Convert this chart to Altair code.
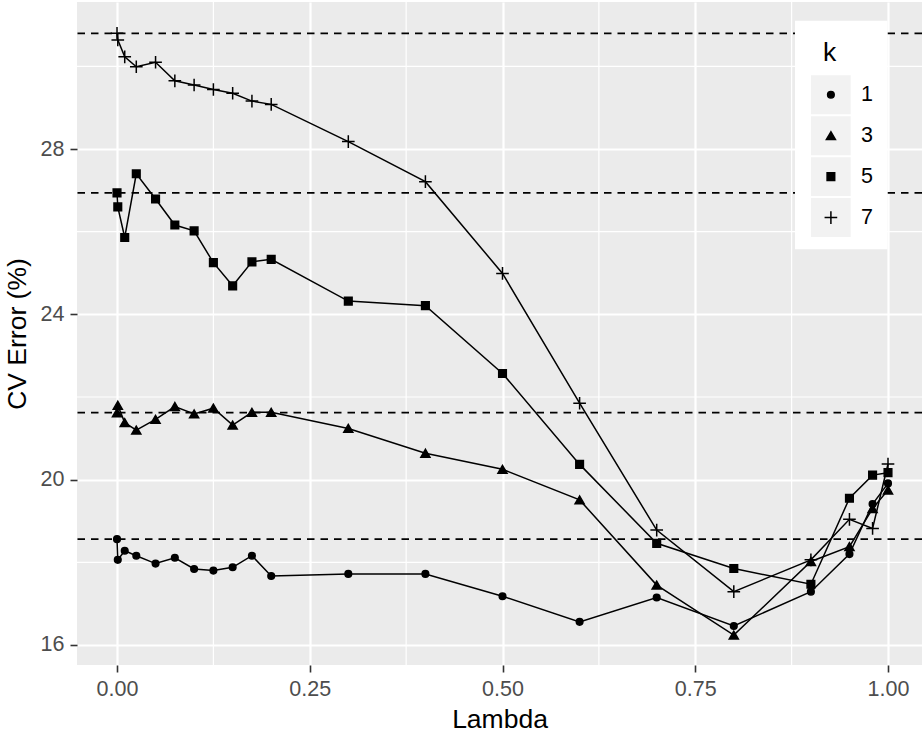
import altair as alt
import pandas as pd

# Penalty values and cross-validated error (%) for each neighbourhood size k
lambdas = [0, 0.001, 0.01, 0.025, 0.05, 0.075, 0.1, 0.125, 0.15, 0.175, 0.2,
           0.3, 0.4, 0.5, 0.6, 0.7, 0.8, 0.9, 0.95, 0.98, 1.0]
k_levels = ["1", "3", "5", "7"]
cv_k1 = [18.56, 18.06, 18.28, 18.16, 17.97, 18.11, 17.84, 17.80, 17.88, 18.16, 17.67,
         17.72, 17.72, 17.18, 16.56, 17.15, 16.46, 17.29, 18.20, 19.41, 19.91]
cv_k3 = [21.62, 21.80, 21.38, 21.20, 21.46, 21.77, 21.59, 21.73, 21.32, 21.63, 21.63,
         21.24, 20.64, 20.25, 19.51, 17.45, 16.24, 18.02, 18.38, 19.30, 19.75]
cv_k5 = [26.94, 26.60, 25.86, 27.40, 26.79, 26.16, 26.02, 25.25, 24.69, 25.27, 25.33,
         24.32, 24.21, 22.57, 20.37, 18.46, 17.85, 17.47, 19.55, 20.11, 20.17]
cv_k7 = [30.80, 30.64, 30.23, 29.99, 30.10, 29.65, 29.55, 29.44, 29.35, 29.16, 29.08,
         28.18, 27.21, 24.99, 21.85, 18.78, 17.29, 18.06, 19.04, 18.82, 20.38]
baseline_cv = [18.56, 21.62, 26.94, 30.80]

x_ticks = [0, 0.25, 0.5, 0.75, 1.0]
x_minor = [0.125, 0.375, 0.625, 0.875]
y_ticks = [16, 20, 24, 28]
y_minor = [18, 22, 26, 30]

series = {"1": cv_k1, "3": cv_k3, "5": cv_k5, "7": cv_k7}
cv = pd.DataFrame(
    [{"lambda": lam, "cv": v, "k": k} for k, vals in series.items() for lam, v in zip(lambdas, vals)]
)
base_df = pd.DataFrame({"cv": baseline_cv})
xminor_df = pd.DataFrame({"lambda": x_minor})
yminor_df = pd.DataFrame({"cv": y_minor})
legend_df = pd.DataFrame({"k": k_levels})
legend_title_df = pd.DataFrame({"title": ["k"]})

FONT = "Liberation Sans, Arial, sans-serif"
LABEL_SIZE = 21.5
TITLE_SIZE = 26.5

x_scale = alt.Scale(domain=[-0.0519, 1.0441], nice=False, zero=False)
y_scale = alt.Scale(domain=[15.516, 31.557], nice=False, zero=False)
plus_path = "M-1,0H1M0,-1V1"
shape_scale = alt.Scale(domain=k_levels, range=["circle", "triangle-up", "square", plus_path])
size_scale = alt.Scale(type="ordinal", domain=k_levels, range=[44, 82, 58, 160])

axis_common = dict(
    grid=True, gridColor="white", gridWidth=2.2, domain=False,
    tickColor="#333333", tickSize=7, tickWidth=1.6,
    labelFont=FONT, labelFontSize=LABEL_SIZE, labelColor="#4D4D4D",
    titleFont=FONT, titleFontSize=TITLE_SIZE, titleFontWeight="normal", titleColor="black",
)
x_axis = alt.Axis(values=x_ticks, format=".2f", title="Lambda", labelPadding=6,
                  titlePadding=7, **axis_common)
y_axis = alt.Axis(values=y_ticks, format="d", title="CV Error (%)", labelPadding=6,
                  titlePadding=9, **axis_common)


def X(field="lambda"):
    return alt.X(f"{field}:Q", scale=x_scale, axis=x_axis)


def Y(field="cv"):
    return alt.Y(f"{field}:Q", scale=y_scale, axis=y_axis)


# minor grid
grid_x = alt.Chart(xminor_df).mark_rule(color="white", strokeWidth=1.2).encode(x=X())
grid_y = alt.Chart(yminor_df).mark_rule(color="white", strokeWidth=1.2).encode(y=Y())

# reference errors for plain kNN
baselines = alt.Chart(base_df).mark_rule(
    color="black", strokeWidth=1.8, strokeDash=[7.5, 6]
).encode(y=Y())

lines = alt.Chart(cv).mark_line(color="black", strokeWidth=1.5).encode(
    x=X(), y=Y(), detail="k:N", order="lambda:Q"
)
points = alt.Chart(cv).mark_point(
    filled=True, fill="black", stroke="black", strokeWidth=1.5, opacity=1
).encode(
    x=X(), y=Y(),
    shape=alt.Shape("k:N", scale=shape_scale, legend=None),
    size=alt.Size("k:N", scale=size_scale, legend=None),
)

main = alt.layer(grid_x, grid_y, baselines, lines, points)

# legend drawn as a layered block
key_scale = alt.Scale(type="band", domain=k_levels, range=[73.3, 235.0],
                      paddingInner=0.05, paddingOuter=0)
key_y = alt.Y("k:N", scale=key_scale, axis=None)

legend_box = alt.Chart(legend_title_df).mark_rect(fill="white").encode(
    x=alt.value(718), x2=alt.value(810.5), y=alt.value(18.7), y2=alt.value(247.3)
)
legend_title = alt.Chart(legend_title_df).mark_text(
    align="left", baseline="alphabetic", font=FONT, fontSize=TITLE_SIZE, color="black"
).encode(x=alt.value(746), y=alt.value(59.4), text="title:N")
legend_keys = alt.Chart(legend_df).mark_rect(fill="#F2F2F2").encode(
    y=key_y, x=alt.value(734), x2=alt.value(773.7)
)
legend_symbols = alt.Chart(legend_df).mark_point(
    filled=True, fill="black", stroke="black", strokeWidth=1.5, opacity=1
).encode(
    y=key_y, x=alt.value(753.9),
    shape=alt.Shape("k:N", scale=shape_scale, legend=None),
    size=alt.Size("k:N", scale=size_scale, legend=None),
)
legend_labels = alt.Chart(legend_df).mark_text(
    align="left", baseline="middle", font=FONT, fontSize=LABEL_SIZE, color="black"
).encode(y=key_y, x=alt.value(784), text="k:N")

legend = alt.layer(legend_box, legend_title, legend_keys, legend_symbols, legend_labels)

chart = alt.layer(main, legend).resolve_scale(y="independent").properties(
    width=845, height=663,
    autosize=alt.AutoSizeParams(type="none"),
    padding={"left": 77, "top": 2, "right": 0, "bottom": 70},
    background="white",
).configure_view(fill="#EBEBEB", stroke=None)

chart.save("out.html", embed_options={"renderer": "svg", "actions": False})
